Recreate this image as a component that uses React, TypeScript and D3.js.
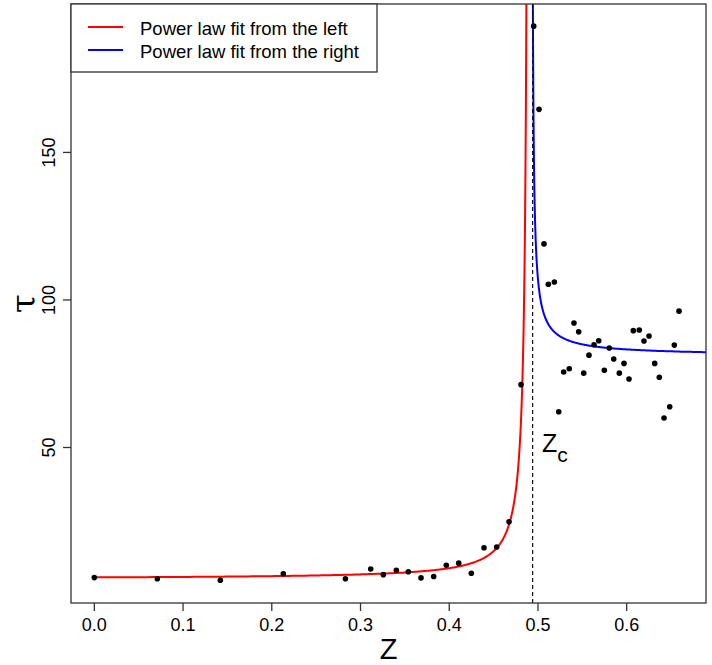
import React, { useEffect, useRef } from 'react';
import * as d3 from 'd3';

// relaxation time below the transition
const leftZ = [0, 0.071, 0.142, 0.213, 0.283, 0.3115, 0.3257, 0.3404, 0.3539, 0.3682, 0.3825, 0.3967, 0.4107, 0.4249, 0.4392, 0.4535, 0.4674, 0.4809];
const leftTau = [5.9, 5.5, 5.0, 7.2, 5.5, 8.8, 6.9, 8.4, 7.9, 5.8, 6.3, 10.1, 10.8, 7.4, 16.0, 16.3, 24.8, 71.3];

// relaxation time above the transition
const rightZ = [0.4952, 0.5012, 0.5068, 0.5117, 0.5185, 0.5234, 0.529, 0.5353, 0.5406, 0.5459, 0.5516, 0.5575, 0.5632, 0.5685, 0.5748, 0.5804, 0.5854, 0.5917, 0.597, 0.6026, 0.6075, 0.6142, 0.6195, 0.6252, 0.6316, 0.6368, 0.6421, 0.6485, 0.6537, 0.659];
const rightTau = [192.8, 164.6, 119.0, 105.3, 106.1, 62.1, 75.6, 76.7, 92.2, 89.2, 75.2, 81.3, 84.8, 86.2, 76.2, 83.7, 80.0, 75.2, 78.5, 73.2, 89.6, 89.8, 86.1, 87.8, 78.5, 73.8, 60.0, 63.8, 84.7, 96.2];

// tau = base + amp * |z - zc|^(-exponent)
const leftFit = { base: 5.5, amp: 0.21, zc: 0.49, exponent: 1.18 };
const rightFit = { base: 81, amp: 0.3, zc: 0.493, exponent: 0.9 };
const zCritical = 0.494;

const xTicks = [0, 0.1, 0.2, 0.3, 0.4, 0.5, 0.6];
const yTicks = [50, 100, 150];
const legendLabels = ['Power law fit from the left', 'Power law fit from the right'];
const legendColors = ['#ff0000', '#0000ff'];

const FONT = '"Liberation Sans", Arial, sans-serif';

const App = () => {
  const ref = useRef<SVGSVGElement>(null);

  useEffect(() => {
    const svg = d3.select(ref.current);
    svg.selectAll('*').remove();

    const box = { left: 71, right: 706, top: 4, bottom: 603 };

    const x = d3.scaleLinear().domain([-0.0263, 0.6894]).range([box.left, box.right]);
    const y = d3.scaleLinear().domain([-2.7, 200.3]).range([box.bottom, box.top]);

    svg.append('defs').append('clipPath').attr('id', 'plot-clip')
      .append('rect')
        .attr('x', box.left).attr('y', box.top)
        .attr('width', box.right - box.left).attr('height', box.bottom - box.top);

    const plot = svg.append('g').attr('clip-path', 'url(#plot-clip)');

    // fitted curves, sampled densely toward the singularity
    const line = d3.line<[number, number]>().x(d => x(d[0])).y(d => y(d[1]));

    const leftCurve: [number, number][] = d3.range(0, 400).map(i => {
      const d = leftFit.zc * Math.pow(0.0015 / leftFit.zc, i / 399);
      const z = leftFit.zc - d;
      return [z, leftFit.base + leftFit.amp * Math.pow(d, -leftFit.exponent)];
    });
    const rightCurve: [number, number][] = d3.range(0, 400).map(i => {
      const d = 0.0004 * Math.pow(0.2 / 0.0004, i / 399);
      const z = rightFit.zc + d;
      return [z, rightFit.base + rightFit.amp * Math.pow(d, -rightFit.exponent)];
    });

    plot.append('path').datum(leftCurve)
      .attr('d', line).attr('fill', 'none')
      .attr('stroke', legendColors[0]).attr('stroke-width', 2);
    plot.append('path').datum(rightCurve)
      .attr('d', line).attr('fill', 'none')
      .attr('stroke', legendColors[1]).attr('stroke-width', 2);

    // critical point
    plot.append('line')
      .attr('x1', x(zCritical)).attr('x2', x(zCritical))
      .attr('y1', box.top).attr('y2', box.bottom)
      .attr('stroke', '#111').attr('stroke-width', 1.2)
      .attr('stroke-dasharray', '4,3');

    const points = [
      ...leftZ.map((z, i) => [z, leftTau[i]]),
      ...rightZ.map((z, i) => [z, rightTau[i]]),
    ];
    plot.selectAll('circle.pt').data(points).enter()
      .append('circle')
        .attr('class', 'pt')
        .attr('cx', d => x(d[0]))
        .attr('cy', d => y(d[1]))
        .attr('r', 2.8)
        .attr('fill', '#000');

    // frame
    svg.append('rect')
      .attr('x', box.left).attr('y', box.top)
      .attr('width', box.right - box.left).attr('height', box.bottom - box.top)
      .attr('fill', 'none').attr('stroke', '#333').attr('stroke-width', 1.3);

    // x axis
    const xAxis = svg.append('g');
    xAxis.selectAll('line').data(xTicks).enter().append('line')
      .attr('x1', d => x(d)).attr('x2', d => x(d))
      .attr('y1', box.bottom).attr('y2', box.bottom + 8)
      .attr('stroke', '#333').attr('stroke-width', 1.3);
    xAxis.selectAll('text').data(xTicks).enter().append('text')
      .attr('x', d => x(d)).attr('y', 631)
      .attr('text-anchor', 'middle')
      .style('font-family', FONT).style('font-size', '18px')
      .text(d => d.toFixed(1));

    // y axis
    const yAxis = svg.append('g');
    yAxis.selectAll('line').data(yTicks).enter().append('line')
      .attr('x1', box.left - 8).attr('x2', box.left)
      .attr('y1', d => y(d)).attr('y2', d => y(d))
      .attr('stroke', '#333').attr('stroke-width', 1.3);
    yAxis.selectAll('text').data(yTicks).enter().append('text')
      .attr('transform', d => `translate(55,${y(d)}) rotate(-90)`)
      .attr('text-anchor', 'middle')
      .style('font-family', FONT).style('font-size', '18px')
      .text(d => String(d));

    // axis titles
    svg.append('text')
      .attr('x', (box.left + box.right) / 2).attr('y', 659)
      .attr('text-anchor', 'middle')
      .style('font-family', FONT).style('font-size', '29px')
      .text('Z');
    svg.append('text')
      .attr('transform', `translate(35,${(box.top + box.bottom) / 2}) rotate(-90)`)
      .attr('text-anchor', 'middle')
      .style('font-family', '"DejaVu Serif", serif').style('font-size', '34px')
      .text('τ');

    // z_c label
    const zc = svg.append('text')
      .attr('x', 542).attr('y', 452)
      .style('font-family', FONT).style('font-size', '25px');
    zc.append('tspan').text('Z');
    zc.append('tspan').attr('dy', 10).style('font-size', '21px').text('c');

    // legend
    const legend = svg.append('g');
    legend.append('rect')
      .attr('x', box.left).attr('y', box.top)
      .attr('width', 306).attr('height', 68)
      .attr('fill', '#fff').attr('stroke', '#333').attr('stroke-width', 1.3);
    legendLabels.forEach((label, i) => {
      const ly = 27 + i * 23;
      legend.append('line')
        .attr('x1', 88).attr('x2', 123).attr('y1', ly).attr('y2', ly)
        .attr('stroke', legendColors[i]).attr('stroke-width', 2);
      legend.append('text')
        .attr('x', 140).attr('y', ly + 8)
        .style('font-family', FONT).style('font-size', '18.5px')
        .text(label);
    });
  }, []);

  return (
    <svg
      ref={ref}
      width={712}
      height={665}
      style={{ position: 'absolute', left: 0, top: 0, background: '#fff', display: 'block' }}
    />
  );
};

export default App;
